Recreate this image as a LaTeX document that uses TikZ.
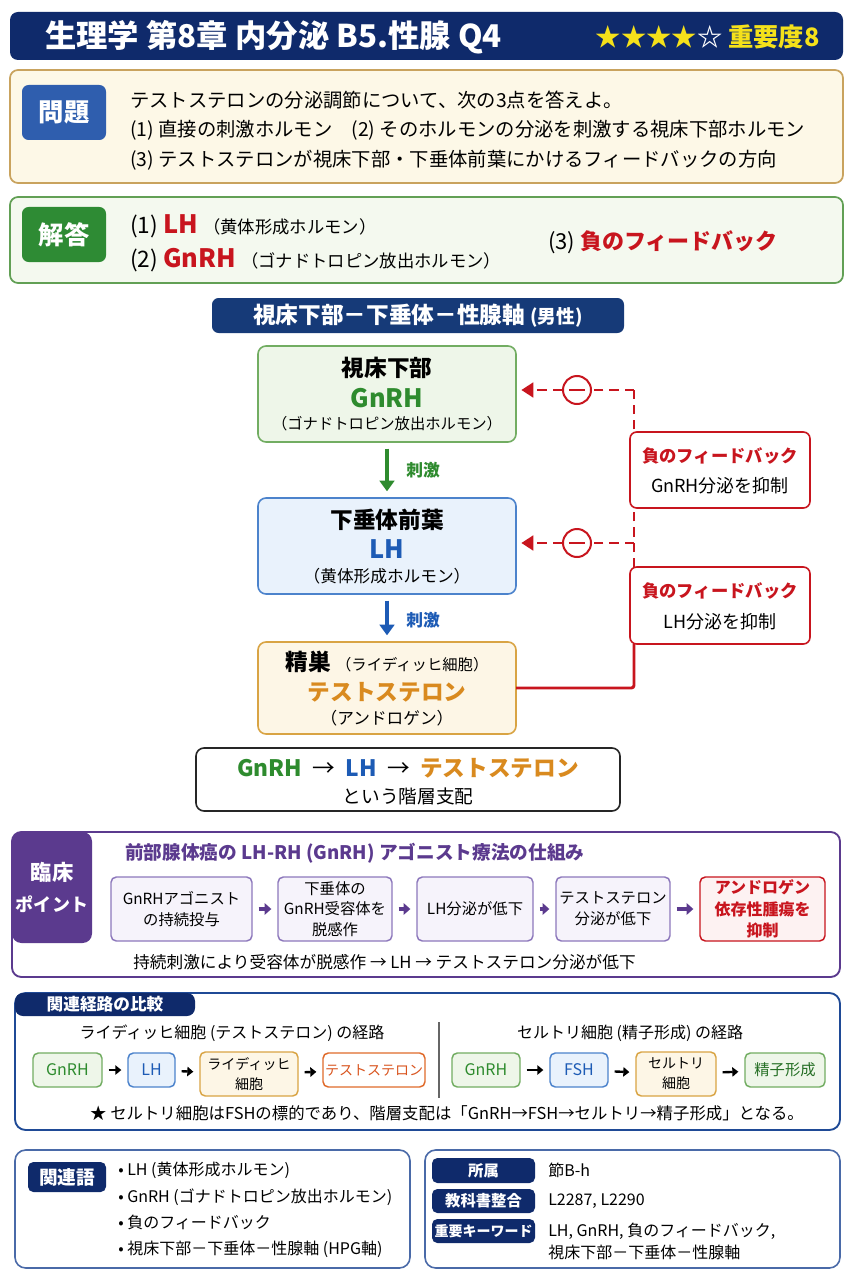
\documentclass[tikz,border=0pt]{standalone}
\usepackage{fontspec}
\setmainfont{Noto Sans CJK JP}
\usetikzlibrary{arrows.meta,calc}
\definecolor{navy}{HTML}{0F2A6B}
\definecolor{navyB}{HTML}{163A78}
\definecolor{cream}{HTML}{FDF8E7}
\definecolor{tan}{HTML}{C9A35E}
\definecolor{lblue}{HTML}{2F5EAE}
\definecolor{ansFill}{HTML}{F4F9EF}
\definecolor{ansBorder}{HTML}{62A055}
\definecolor{ansLbl}{HTML}{2E8B34}
\definecolor{cRed}{HTML}{C8151E}
\definecolor{tGreen}{HTML}{2E8B2E}
\definecolor{tBlue}{HTML}{1D5BB5}
\definecolor{tOrange}{HTML}{D98A1F}
\definecolor{gFill}{HTML}{EEF6E9}
\definecolor{gBorder}{HTML}{72AD62}
\definecolor{bFill}{HTML}{E9F2FC}
\definecolor{bBorder}{HTML}{4C83CC}
\definecolor{oFill}{HTML}{FDF6E6}
\definecolor{oBorder}{HTML}{D9A444}
\definecolor{purp}{HTML}{5B3A8E}
\definecolor{lav}{HTML}{F6F3FB}
\definecolor{lavB}{HTML}{8D78BC}
\definecolor{redFill}{HTML}{FDF2F2}
\definecolor{rNavy}{HTML}{1F4A96}
\definecolor{teO}{HTML}{E06A2A}
\definecolor{teT}{HTML}{D9541E}
\definecolor{starY}{HTML}{F5E11A}
\definecolor{bxB}{HTML}{4A6AA8}
\newcommand\fz[2]{\fontsize{#1}{#2}\selectfont}
\newcommand\rbox[7][]{\node[inner sep=0pt, outer sep=0pt, align=center, minimum width={(#4-#2)*0.75pt}, minimum height={(#5-#3)*0.75pt}, #1] (#6) at ({(#2+#4)/2},{(#3+#5)/2}) {#7};}
\begin{document}
\begin{tikzpicture}[x=0.75pt,y=-0.75pt,
  lt/.style={anchor=west, inner sep=0pt},
  ct/.style={inner sep=0pt, align=center},
  fbdash/.style={cRed, line width=2.1pt, dash pattern=on 7pt off 4.5pt},
  minus/.style={circle, draw=cRed, line width=1.5pt, fill=white, minimum size=21pt, inner sep=0pt},
  fbbox/.style={draw=cRed, fill=white, line width=1.2pt, rounded corners=5pt},
  parr/.style={purp, line width=2.8pt, -{Triangle[length=5pt,width=8.5pt]}, shorten <=5pt, shorten >=5pt},
  karr/.style={black, line width=1.8pt, -{Triangle[length=4.5pt,width=7pt]}, shorten <=5pt, shorten >=5pt},
  stepbox/.style={draw=lavB, fill=lav, line width=1.1pt, rounded corners=4pt, font=\fz{11.5}{15.5}},
  pill/.style={line width=1.1pt, rounded corners=4pt},
  navlbl/.style={fill=navy, rounded corners=4pt, text=white, font=\bfseries\fz{11.5}{14}},
]
\path[use as bounding box, fill=white] (0,0) rectangle (853,1280);

% title
\rbox[fill=navy, rounded corners=6pt]{10}{12}{843}{60}{title}{}
\node[lt, text=white, font=\bfseries\fz{23.5}{27}] (ttl) at (45,37) {生理学 第8章 内分泌 B5.性腺 Q4};
\node[anchor=east, inner sep=0pt, font=\bfseries\fz{19}{22}] (imp) at (820,37) {\textcolor{starY}{★★★★}\textcolor{white}{☆} \textcolor{starY}{重要度8}};

% problem
\rbox[fill=cream, draw=tan, line width=1.3pt, rounded corners=6pt]{10}{70}{843}{183}{prob}{}
\rbox[fill=lblue, rounded corners=5pt, text=white, font=\bfseries\fz{19}{22}]{22}{85}{106}{140}{probl}{問題}
\node[lt, font=\fz{14.5}{17}] (q1) at (130,100) {テストステロンの分泌調節について、次の3点を答えよ。};
\node[lt, font=\fz{14.5}{17}] (q2) at (130,130) {(1) 直接の刺激ホルモン\quad (2) そのホルモンの分泌を刺激する視床下部ホルモン};
\node[lt, font=\fz{14.5}{17}] (q3) at (130,160) {(3) テストステロンが視床下部・下垂体前葉にかけるフィードバックの方向};

% answer
\rbox[fill=ansFill, draw=ansBorder, line width=1.3pt, rounded corners=6pt]{10}{197}{843}{283}{ans}{}
\rbox[fill=ansLbl, rounded corners=5pt, text=white, font=\bfseries\fz{19}{22}]{22}{207}{106}{262}{ansl}{解答}
\node[lt, font=\fz{17}{20}] (a1) at (130,226) {(1) \textcolor{cRed}{\bfseries\fz{19}{22}LH} {\fz{13}{15}（黄体形成ホルモン）}};
\node[lt, font=\fz{17}{20}] (a2) at (130,260) {(2) \textcolor{cRed}{\bfseries\fz{19}{22}GnRH} {\fz{13}{15}（ゴナドトロピン放出ホルモン）}};
\node[lt, font=\fz{16.5}{19}] (a3) at (548,242) {(3) \textcolor{cRed}{\bfseries 負のフィードバック}};

% section header
\rbox[fill=navyB, rounded corners=5pt, text=white, font=\bfseries\fz{17}{20}]{212}{298}{624}{333}{sec}{視床下部－下垂体－性腺軸 {\fz{14}{16}(男性)}}

% flow boxes
\rbox[fill=gFill, draw=gBorder, line width=1.2pt, rounded corners=6pt]{258}{346}{516}{442}{b1}{}
\node[ct, font=\bfseries\fz{17}{20}] (b1a) at (387,368) {視床下部};
\node[ct, font=\bfseries\fz{19}{22}, text=tGreen] (b1b) at (387,398) {GnRH};
\node[ct, font=\fz{11.5}{14}] (b1c) at (387,424) {（ゴナドトロピン放出ホルモン）};

\rbox[fill=bFill, draw=bBorder, line width=1.2pt, rounded corners=6pt]{258}{498}{516}{594}{b2}{}
\node[ct, font=\bfseries\fz{17}{20}] (b2a) at (387,520) {下垂体前葉};
\node[ct, font=\bfseries\fz{19}{22}, text=tBlue] (b2b) at (387,549) {LH};
\node[ct, font=\fz{12.5}{15}] (b2c) at (387,576) {（黄体形成ホルモン）};

\rbox[fill=oFill, draw=oBorder, line width=1.2pt, rounded corners=6pt]{258}{642}{516}{734}{b3}{}
\node[ct, font=\bfseries\fz{17}{20}] (b3a) at (387,662) {精巣 {\mdseries\fz{11.5}{14}（ライディッヒ細胞）}};
\node[ct, font=\bfseries\fz{17}{20}, text=tOrange] (b3b) at (387,692) {テストステロン};
\node[ct, font=\fz{12.5}{15}] (b3c) at (387,718) {（アンドロゲン）};

\draw[tGreen, line width=3pt, -{Triangle[length=8pt,width=11pt]}, shorten <=5pt, shorten >=5pt] (b1) -- (b2);
\draw[tBlue, line width=3pt, -{Triangle[length=8pt,width=11pt]}, shorten <=5pt, shorten >=5pt] (b2) -- (b3);
\node[ct, font=\bfseries\fz{12.5}{15}, text=tGreen] (s1l) at (423,470) {刺激};
\node[ct, font=\bfseries\fz{12.5}{15}, text=tBlue] (s2l) at (423,620) {刺激};

% feedback
\coordinate (fbtop) at (634,390);
\coordinate (fbmid) at (634,543);
\coordinate (fbj) at (634,644);
\coordinate (fbbot) at (634,688);
\draw[fbdash] (fbj) -- (fbtop);
\node[minus] (m1) at (577,390) {};
\node[minus] (m2) at (577,543) {};
\draw[cRed, line width=2pt] ([xshift=-6pt]m1.center) -- ([xshift=6pt]m1.center);
\draw[cRed, line width=2pt] ([xshift=-6pt]m2.center) -- ([xshift=6pt]m2.center);
\draw[fbdash] (fbtop) -- (m1);
\draw[fbdash, -{Triangle[length=9pt,width=11pt]}, shorten >=4pt] (m1) -- (b1.east |- fbtop);
\draw[fbdash] (fbmid) -- (m2);
\draw[fbdash, -{Triangle[length=9pt,width=11pt]}, shorten >=4pt] (m2) -- (b2.east |- fbmid);
\draw[cRed, line width=2.2pt, rounded corners=2pt] (b3.east |- fbbot) -- (fbbot) -- (fbj);
\rbox[fbbox]{630}{432}{810}{508}{fbA}{}
\node[ct, font=\bfseries\fz{13}{16}, text=cRed] (fbA1) at (720,456) {負のフィードバック};
\node[ct, font=\fz{13.5}{16}] (fbA2) at (720,486) {GnRH分泌を抑制};
\rbox[fbbox]{630}{567}{810}{644}{fbB}{}
\node[ct, font=\bfseries\fz{13}{16}, text=cRed] (fbB1) at (720,591) {負のフィードバック};
\node[ct, font=\fz{13.5}{16}] (fbB2) at (720,622) {LH分泌を抑制};

% hierarchy
\rbox[draw=black!85, line width=1.2pt, rounded corners=6pt, fill=white]{196}{748}{620}{811}{hier}{}
\node[ct, font=\bfseries\fz{17}{20}] (h1) at (408,768) {\textcolor{tGreen}{GnRH}\ \ {\mdseries →}\ \ \textcolor{tBlue}{LH}\ \ {\mdseries →}\ \ \textcolor{tOrange}{テストステロン}};
\node[ct, font=\fz{14}{17}] (h2) at (408,796) {という階層支配};

% clinical
\rbox[draw=purp, line width=1.4pt, rounded corners=7pt, fill=white]{12}{832}{840}{977}{clin}{}
\rbox[fill=purp, rounded corners=7pt, text=white, font=\bfseries\fz{16}{23}]{12}{832}{92}{943}{clinl}{臨床\\{\fz{13.5}{16}ポイント}}
\node[lt, font=\bfseries\fz{14}{17}, text=purp] (clt) at (125,853) {前部腺体癌の LH-RH (GnRH) アゴニスト療法の仕組み};
\rbox[stepbox]{111}{877}{252}{941}{st1}{GnRHアゴニスト\\の持続投与}
\rbox[stepbox]{278}{877}{392}{941}{st2}{下垂体の\\GnRH受容体を\\脱感作}
\rbox[stepbox]{417}{877}{533}{941}{st3}{LH分泌が低下}
\rbox[stepbox]{556}{877}{670}{941}{st4}{テストステロン\\分泌が低下}
\rbox[stepbox, draw=cRed, fill=redFill, text=cRed, font=\bfseries\fz{12}{16}]{700}{877}{825}{941}{st5}{アンドロゲン\\依存性腫瘍を\\抑制}
\draw[parr] (st1) -- (st2);
\draw[parr] (st2) -- (st3);
\draw[parr] (st3) -- (st4);
\draw[parr] (st4) -- (st5);
\node[lt, font=\fz{12.5}{15}] (clb) at (133,962) {持続刺激により受容体が脱感作 → LH → テストステロン分泌が低下};

% related pathways
\rbox[draw=rNavy, line width=1.4pt, rounded corners=8pt, fill=white]{15}{993}{840}{1130}{rel}{}
\rbox[fill=navy, rounded corners=6pt, text=white, font=\bfseries\fz{12.5}{15}]{15}{993}{195}{1016}{rell}{関連経路の比較}
\node[ct, font=\fz{12}{15}] (rh1) at (232,1033) {ライディッヒ細胞 (テストステロン) の経路};
\node[ct, font=\fz{12}{15}] (rh2) at (630,1033) {セルトリ細胞 (精子形成) の経路};
\coordinate (sepT) at (439,1022);
\coordinate (sepB) at (439,1098);
\draw[black!60, line width=0.8pt] (sepT) -- (sepB);
\rbox[pill, draw=gBorder, fill=gFill, text=tGreen, font=\fz{12}{15}]{33}{1053}{102}{1087}{p1}{GnRH}
\rbox[pill, draw=bBorder, fill=bFill, text=tBlue, font=\fz{12}{15}]{128}{1053}{175}{1087}{p2}{LH}
\rbox[pill, draw=oBorder, fill=oFill, font=\fz{10.5}{15}]{200}{1052}{298}{1096}{p3}{ライディッヒ\\細胞}
\rbox[pill, draw=teO, fill=white, text=teT, font=\fz{10.5}{15}]{323}{1053}{425}{1087}{p4}{テストステロン}
\rbox[pill, draw=gBorder, fill=gFill, text=tGreen, font=\fz{12}{15}]{452}{1053}{520}{1087}{q1b}{GnRH}
\rbox[pill, draw=bBorder, fill=bFill, text=tBlue, font=\fz{12}{15}]{550}{1053}{608}{1087}{q2b}{FSH}
\rbox[pill, draw=oBorder, fill=oFill, font=\fz{10.5}{15}]{636}{1052}{716}{1096}{q3b}{セルトリ\\細胞}
\rbox[pill, draw=gBorder, fill=gFill, text=tGreen!80!black, font=\fz{11.5}{15}]{745}{1053}{825}{1087}{q4b}{精子形成}
\draw[karr] (p1) -- (p2);
\draw[karr] (p2) -- (p3);
\draw[karr] (p3) -- (p4);
\draw[karr] (q1b) -- (q2b);
\draw[karr] (q2b) -- (q3b);
\draw[karr] (q3b) -- (q4b);
\node[ct, font=\fz{12.3}{15}] (rnote) at (447,1113) {★ セルトリ細胞はFSHの標的であり、階層支配は「GnRH→FSH→セルトリ→精子形成」となる。};

% bottom left
\rbox[draw=bxB, line width=1.2pt, rounded corners=8pt, fill=white]{15}{1150}{410}{1268}{kw}{}
\rbox[navlbl, font=\bfseries\fz{14}{17}]{28}{1162}{106}{1192}{kwl}{関連語}
\node[lt, font=\fz{12}{15}] (k1) at (118,1170) {•\ LH (黄体形成ホルモン)};
\node[lt, font=\fz{12}{15}] (k2) at (118,1197) {•\ GnRH (ゴナドトロピン放出ホルモン)};
\node[lt, font=\fz{12}{15}] (k3) at (118,1222) {•\ 負のフィードバック};
\node[lt, font=\fz{12}{15}] (k4) at (118,1249) {•\ 視床下部－下垂体－性腺軸 (HPG軸)};

% bottom right
\rbox[draw=bxB, line width=1.2pt, rounded corners=8pt, fill=white]{425}{1150}{840}{1268}{meta}{}
\rbox[navlbl]{432}{1158}{535}{1183}{ml1}{所属}
\rbox[navlbl]{432}{1189}{535}{1213}{ml2}{教科書整合}
\rbox[navlbl, font=\bfseries\fz{10.5}{13}]{432}{1219}{535}{1243}{ml3}{重要キーワード}
\node[lt, font=\fz{12}{15}] (mv1) at (548,1170) {節B-h};
\node[lt, font=\fz{12}{15}] (mv2) at (548,1201) {L2287, L2290};
\node[lt, font=\fz{12}{15}] (mv3) at (548,1231) {LH, GnRH, 負のフィードバック,};
\node[lt, font=\fz{12}{15}] (mv4) at (548,1252) {視床下部－下垂体－性腺軸};
\end{tikzpicture}
\end{document}
